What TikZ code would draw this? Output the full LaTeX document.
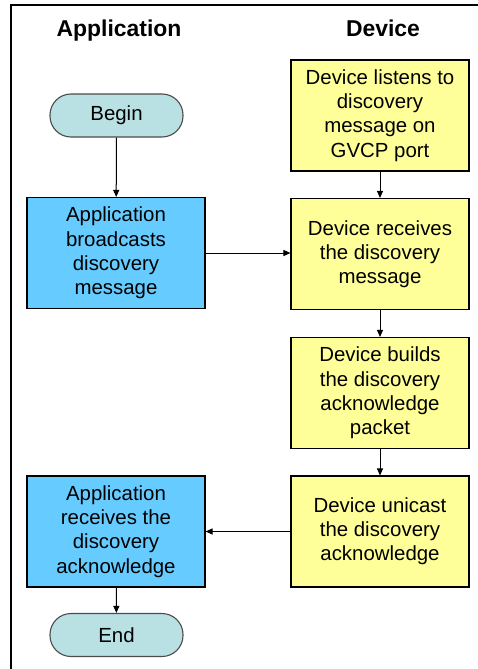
\documentclass[tikz,border=0pt]{standalone}
\usepackage{fontspec}
\setmainfont{Liberation Sans}
\usetikzlibrary{arrows.meta}
\definecolor{appblue}{HTML}{66CCFF}
\definecolor{devyellow}{HTML}{FFFF99}
\definecolor{termteal}{HTML}{B9E0E3}
\begin{document}
\begin{tikzpicture}[x=1bp,y=-1bp,
  bodytext/.style={font=\fontsize{20.5}{24.3}\selectfont, align=center, text=black},
  appbox/.style={bodytext, draw=black, line width=1.1bp, fill=appblue, minimum width=178bp, minimum height=111bp, inner sep=0pt},
  devbox/.style={bodytext, draw=black, line width=1.1bp, fill=devyellow, minimum width=178bp, minimum height=111bp, inner sep=0pt},
  termbox/.style={bodytext, draw=black!70, line width=1.1bp, fill=termteal, rounded corners=21bp, minimum width=133bp, minimum height=43bp, inner sep=0pt},
  title/.style={font=\fontsize{23}{26}\selectfont\bfseries, anchor=base},
  conn/.style={draw=black, line width=1bp, -{Triangle[length=7bp,width=6bp]}}
]
\useasboundingbox (0,0) rectangle (478,669);
\fill[white] (0,0) rectangle (478,669);
\draw[line width=2bp] (10.5,669) -- (10.5,5) -- (478,5);

\node[title] (tapp) at (119,37) {Application};
\node[title] (tdev) at (383,37) {Device};

\node[termbox] (begin) at (116.5,115.5) {Begin};
\node[devbox] (listen) at (380,115.5) {Device listens to\\discovery\\message on\\GVCP port};
\node[appbox] (bcast) at (116,253) {Application\\broadcasts\\discovery\\message};
\node[devbox] (recv) at (380,254) {Device receives\\the discovery\\message};
\node[devbox] (build) at (380,393) {Device builds\\the discovery\\acknowledge\\packet};
\node[devbox] (ucast) at (380,531.5) {Device unicast\\the discovery\\acknowledge};
\node[appbox] (arecv) at (116,531.5) {Application\\receives the\\discovery\\acknowledge};
\node[termbox] (end) at (116.5,635) {End};

\draw[conn] (begin) -- (bcast);
\draw[conn] (listen) -- (recv);
\draw[conn] (bcast.east) -- (recv.west |- bcast.east);
\draw[conn] (recv) -- (build);
\draw[conn] (build) -- (ucast);
\draw[conn] (ucast) -- (arecv);
\draw[conn] (arecv) -- (end);
\end{tikzpicture}
\end{document}
